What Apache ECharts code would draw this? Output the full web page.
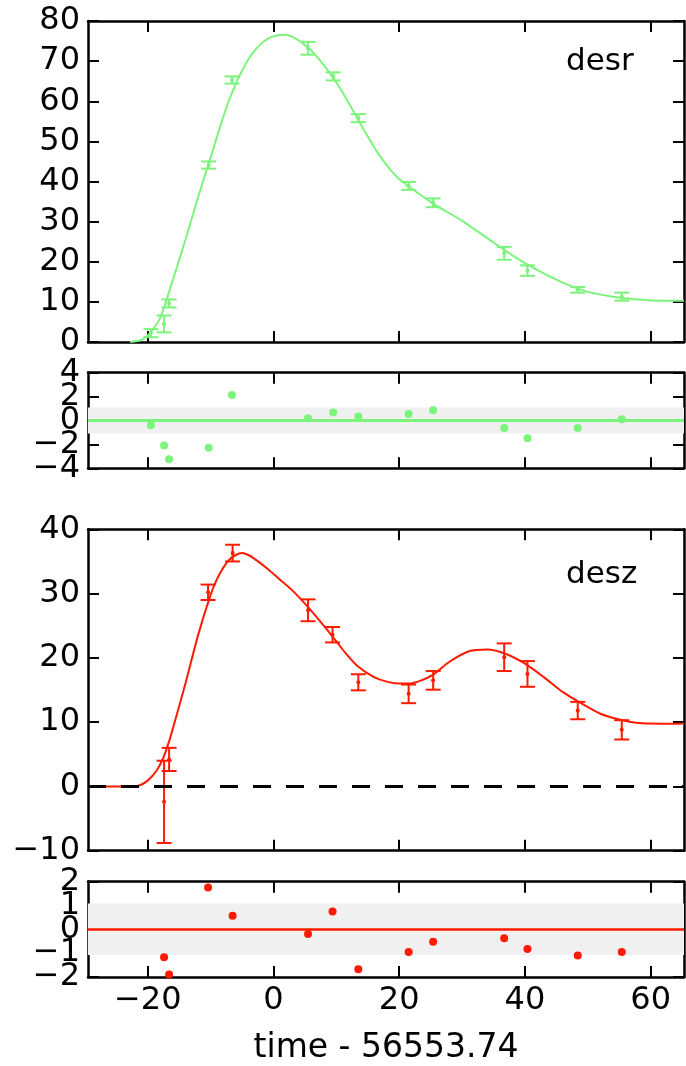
<!DOCTYPE html>
<html><head><meta charset="utf-8">
<script src="https://cdn.jsdelivr.net/npm/echarts@6/dist/echarts.min.js"></script>
<style>html,body{margin:0;padding:0;background:#fff}#c{width:686px;height:1066px}</style>
</head><body><div id="c"></div>
<script>
// ---- data ----
const xTickValues = [-20, 0, 20, 40, 60];
const xRange = [-29.5, 65.3];
const yTicks1 = [0, 10, 20, 30, 40, 50, 60, 70, 80];
const yTicks2 = [-4, -2, 0, 2, 4];
const yTicks3 = [-10, 0, 10, 20, 30, 40];
const yTicks4 = [-2, -1, 0, 1, 2];

const rTimes = [-19.5,-17.4,-16.6,-10.3,-6.6,5.5,9.5,13.5,21.5,25.4,36.7,40.4,48.4,55.4];
const rFlux  = [2.2,4.5,9.6,44.1,65.3,73.2,66.2,55.8,38.9,34.7,22.1,17.8,13.0,11.3];
const rErr   = [1.0,2.1,1.0,0.9,0.9,1.6,1.0,1.0,1.0,1.1,1.6,1.3,0.7,1.0];
const rResid = [-0.39,-2.1,-3.24,-2.28,2.14,0.19,0.66,0.33,0.55,0.85,-0.63,-1.48,-0.63,0.1];
const rModelT = [-22.8,-21,-20,-19,-18,-17.4,-16.6,-14,-12,-10,-8,-7,-6,-5,-4,-3,-2,-1,0,1.5,3,5.5,7.5,9.6,11.5,13.4,16,17,18,19,20,21.5,25.4,30,34,38,42,46,50,54,58,62,65.3];
const rModelF = [0,0.5,1.6,3.5,6,8.6,12.5,25.5,36,46,56,60.5,64.3,67.6,70.4,72.6,74.3,75.5,76.2,76.6,76.1,73.4,70.0,65.6,60.9,55.6,48.6,46.2,44.1,42.2,40.6,38.8,34.5,30.2,25.9,21.6,17.9,14.8,12.5,11.3,10.6,10.3,10.3];

const zTimes = [-17.4,-16.6,-10.4,-6.5,5.5,9.4,13.5,21.5,25.4,36.7,40.4,48.4,55.4];
const zFlux  = [-2.4,4.2,30.2,36.3,27.4,23.6,16.2,14.4,16.5,20.1,17.5,11.8,8.8];
const zErr   = [6.4,1.8,1.2,1.3,1.7,1.2,1.25,1.45,1.45,2.15,2.0,1.35,1.5];
const zResid = [-1.17,-1.9,1.76,0.57,-0.2,0.75,-1.67,-0.95,-0.52,-0.37,-0.83,-1.1,-0.95];
const zModelT = [-29.5,-23,-21.5,-20,-18.5,-17.5,-16.6,-16,-14,-12,-10,-9,-8,-7,-6,-5,-4,-3,-1,1,3,5.5,7.5,9.5,11.5,13.5,16,18,20,21.5,23.5,25.4,28,31,34,37,40,43,46,49,52,55,58,62,65.3];
const zModelF = [0,0,0.1,0.9,2.6,4.5,7.0,9.0,16.0,23.5,29.8,32.2,34.0,35.3,36.0,36.3,36.0,35.4,33.9,32.2,30.5,27.9,25.6,23.2,20.7,18.6,17.0,16.3,16.0,16.0,16.5,17.4,19.4,21.0,21.3,20.6,19.1,17.0,14.7,12.9,11.3,10.4,9.85,9.75,9.8];

const residBand = [-1.08, 1.08];
const panelNames = ['desr', 'desz'];
const xAxisTitle = 'time - 56553.74';

// ---- styles ----
const GREEN = '#7cf47c';
const RED = '#ff1a00';
const FONT = 'DejaVu Sans';
const FS = 32;
const L = 88, W = 596;
const grids = [
  {left: L, width: W, top: 21, height: 321},
  {left: L, width: W, top: 372.7, height: 95.6},
  {left: L, width: W, top: 529.3, height: 321.4},
  {left: L, width: W, top: 881.7, height: 95.6}
];
const yTicks = [yTicks1, yTicks2, yTicks3, yTicks4];
const fmt = v => String(v).replace('-', '\u2212');
const lineSt = {color: '#000', width: 2.5};
const tickSt = {color: '#000', width: 2};

const xAxes = [], yAxes = [], xIdx = [], yIdx = [];
grids.forEach((g, i) => {
  ['bottom', 'top'].forEach(pos => {
    const showLab = (i === 3 && pos === 'bottom');
    const ax = {
      type: 'value', gridIndex: i, position: pos, min: xRange[0], max: xRange[1],
      axisLine: {show: true, onZero: false, lineStyle: lineSt},
      axisTick: {show: true, inside: true, length: 11, lineStyle: tickSt, customValues: xTickValues},
      axisLabel: {show: showLab, customValues: xTickValues, formatter: fmt, color: '#000',
        fontFamily: FONT, fontSize: FS, margin: 8, hideOverlap: false},
      splitLine: {show: false}
    };
    if (showLab) {
      ax.name = xAxisTitle; ax.nameLocation = 'middle'; ax.nameGap = 55;
      ax.nameTextStyle = {color: '#000', fontFamily: FONT, fontSize: 33};
    }
    if (pos === 'bottom') xIdx.push(xAxes.length);
    xAxes.push(ax);
  });
  const tv = yTicks[i];
  const mn = tv[0], mx = tv[tv.length - 1];
  // split labels over two left axes so that tightly packed labels are all kept
  const labA = tv.filter((v, k) => k % 2 === 0);
  const labB = tv.filter((v, k) => k % 2 === 1);
  const lab = {color: '#000', fontFamily: FONT, fontSize: FS, margin: 8, formatter: fmt,
    showMinLabel: true, showMaxLabel: true, hideOverlap: false};
  yIdx.push(yAxes.length);
  yAxes.push({
    type: 'value', gridIndex: i, position: 'left', min: mn, max: mx,
    axisLine: {show: true, onZero: false, lineStyle: lineSt},
    axisTick: {show: true, inside: true, length: 11, lineStyle: tickSt, customValues: tv},
    axisLabel: Object.assign({customValues: labA}, lab),
    splitLine: {show: false}
  });
  yAxes.push({
    type: 'value', gridIndex: i, position: 'left', min: mn, max: mx,
    axisLine: {show: false, onZero: false}, axisTick: {show: false},
    axisLabel: Object.assign({customValues: labB}, lab),
    splitLine: {show: false}
  });
  yAxes.push({
    type: 'value', gridIndex: i, position: 'right', min: mn, max: mx,
    axisLine: {show: true, onZero: false, lineStyle: lineSt},
    axisTick: {show: true, inside: true, length: 11, lineStyle: tickSt, customValues: tv},
    axisLabel: {show: false},
    splitLine: {show: false}
  });
});

function zip(a, b, c) { return a.map((v, k) => c ? [v, b[k], c[k]] : [v, b[k]]); }
function ax(gi) { return {xAxisIndex: xIdx[gi], yAxisIndex: yIdx[gi]}; }

function errSeries(gi, t, f, e, color) {
  return Object.assign({
    type: 'custom', z: 4,
    data: zip(t, f, e), encode: {x: 0, y: 1},
    renderItem: (params, api) => {
      const x = api.value(0), y = api.value(1), er = api.value(2);
      const a = api.coord([x, y + er]), b = api.coord([x, y - er]);
      const hw = 7.5, st = {stroke: color, lineWidth: 2};
      return {type: 'group', children: [
        {type: 'line', shape: {x1: a[0], y1: a[1], x2: b[0], y2: b[1]}, style: st},
        {type: 'line', shape: {x1: a[0] - hw, y1: a[1], x2: a[0] + hw, y2: a[1]}, style: st},
        {type: 'line', shape: {x1: b[0] - hw, y1: b[1], x2: b[0] + hw, y2: b[1]}, style: st}
      ]};
    }
  }, ax(gi));
}
function modelSeries(gi, t, f, color) {
  return Object.assign({type: 'line', data: zip(t, f), smooth: 0.25,
    symbol: 'none', lineStyle: {color, width: 2}, z: 3, silent: true}, ax(gi));
}
function dotSeries(gi, t, f, color, size) {
  return Object.assign({type: 'scatter', data: zip(t, f),
    symbolSize: size, itemStyle: {color, opacity: 1}, z: 5, silent: true}, ax(gi));
}
function bandSeries(gi) {
  return Object.assign({type: 'line', data: [], z: 1, silent: true,
    markArea: {silent: true, itemStyle: {color: '#f0f0f0'}, data: [[{yAxis: residBand[0]}, {yAxis: residBand[1]}]]}}, ax(gi));
}
function zeroLine(gi, color, width, type, z) {
  return Object.assign({type: 'line', data: [], z, silent: true,
    markLine: {silent: true, symbol: 'none', label: {show: false},
      lineStyle: {color, width, type, opacity: 1}, data: [{yAxis: 0}]}}, ax(gi));
}

const series = [
  modelSeries(0, rModelT, rModelF, GREEN),
  errSeries(0, rTimes, rFlux, rErr, GREEN),
  dotSeries(0, rTimes, rFlux, GREEN, 4),
  bandSeries(1),
  zeroLine(1, GREEN, 3, 'solid', 2),
  dotSeries(1, rTimes, rResid, GREEN, 8),
  modelSeries(2, zModelT, zModelF, RED),
  zeroLine(2, '#000', 3, [18, 15], 4),
  errSeries(2, zTimes, zFlux, zErr, RED),
  dotSeries(2, zTimes, zFlux, RED, 4),
  bandSeries(3),
  zeroLine(3, RED, 2.5, 'solid', 2),
  dotSeries(3, zTimes, zResid, RED, 8)
];

const chart = echarts.init(document.getElementById('c'), null, {renderer: 'canvas'});
chart.setOption({
  animation: false,
  backgroundColor: '#fff',
  grid: grids,
  xAxis: xAxes,
  yAxis: yAxes,
  series,
  graphic: [
    {type: 'text', left: 566, top: 46, style: {text: panelNames[0], fill: '#000', font: '31px "DejaVu Sans"'}},
    {type: 'text', left: 566, top: 559, style: {text: panelNames[1], fill: '#000', font: '31px "DejaVu Sans"'}}
  ]
});
</script></body></html>
